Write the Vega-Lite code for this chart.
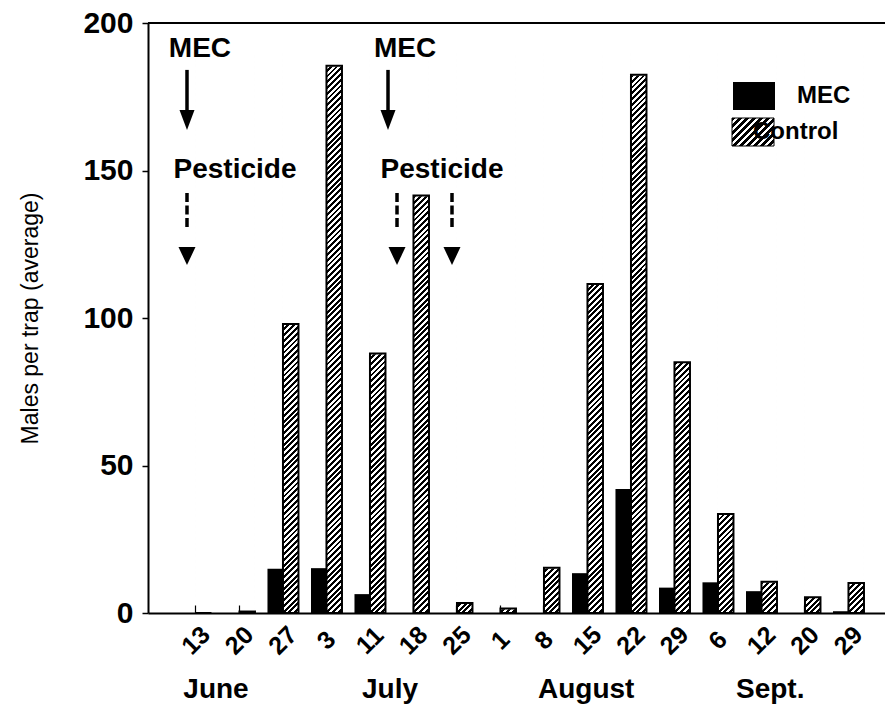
{
  "$schema": "https://vega.github.io/schema/vega-lite/v6.json",
  "width": 737,
  "height": 590,
  "autosize": {"type": "none"},
  "padding": {"left": 148, "top": 23, "right": 0, "bottom": 95},
  "background": "white",
  "config": {
    "view": {"stroke": null},
    "font": "Liberation Sans",
    "axis": {"labelColor": "black", "titleColor": "black", "domainColor": "black", "tickColor": "black", "labelFont": "Liberation Sans", "titleFont": "Liberation Sans", "grid": false}
  },
  "datasets": {
    "counts": [
      {"date": "Jun 13", "group": "MEC", "value": 0}, {"date": "Jun 13", "group": "Control", "value": 0},
      {"date": "Jun 20", "group": "MEC", "value": 0}, {"date": "Jun 20", "group": "Control", "value": 0.5},
      {"date": "Jun 27", "group": "MEC", "value": 15}, {"date": "Jun 27", "group": "Control", "value": 98},
      {"date": "Jul 3", "group": "MEC", "value": 15.2}, {"date": "Jul 3", "group": "Control", "value": 185.5},
      {"date": "Jul 11", "group": "MEC", "value": 6.4}, {"date": "Jul 11", "group": "Control", "value": 88},
      {"date": "Jul 18", "group": "MEC", "value": 0}, {"date": "Jul 18", "group": "Control", "value": 141.5},
      {"date": "Jul 25", "group": "MEC", "value": 0}, {"date": "Jul 25", "group": "Control", "value": 3.4},
      {"date": "Aug 1", "group": "MEC", "value": 0}, {"date": "Aug 1", "group": "Control", "value": 1.5},
      {"date": "Aug 8", "group": "MEC", "value": 0}, {"date": "Aug 8", "group": "Control", "value": 15.3},
      {"date": "Aug 15", "group": "MEC", "value": 13.5}, {"date": "Aug 15", "group": "Control", "value": 111.5},
      {"date": "Aug 22", "group": "MEC", "value": 42}, {"date": "Aug 22", "group": "Control", "value": 182.5},
      {"date": "Aug 29", "group": "MEC", "value": 8.6}, {"date": "Aug 29", "group": "Control", "value": 85},
      {"date": "Sep 6", "group": "MEC", "value": 10.4}, {"date": "Sep 6", "group": "Control", "value": 33.6},
      {"date": "Sep 12", "group": "MEC", "value": 7.4}, {"date": "Sep 12", "group": "Control", "value": 10.6},
      {"date": "Sep 20", "group": "MEC", "value": 0}, {"date": "Sep 20", "group": "Control", "value": 5.3},
      {"date": "Sep 29", "group": "MEC", "value": 0.6}, {"date": "Sep 29", "group": "Control", "value": 10.2}
    ],
    "notes": [
      {"label": "MEC", "px": 0.09, "py": 191.2},
      {"label": "MEC", "px": 4.805, "py": 191.2},
      {"label": "Pesticide", "px": 0.897, "py": 150.2},
      {"label": "Pesticide", "px": 5.655, "py": 150.2}
    ],
    "months": [
      {"label": "June", "px": 0.46, "py": -26},
      {"label": "July", "px": 4.46, "py": -26},
      {"label": "August", "px": 8.97, "py": -26},
      {"label": "Sept.", "px": 13.2, "py": -26}
    ],
    "arrows": [
      {"kind": "solid", "px": -0.207, "top": 184.1, "bottom": 169.5, "head": 167.1},
      {"kind": "solid", "px": 4.414, "top": 184.1, "bottom": 169.5, "head": 167.1},
      {"kind": "dotted", "px": -0.207, "top": 142.4, "bottom": 130.8, "head": 121.0},
      {"kind": "dotted", "px": 4.621, "top": 142.4, "bottom": 130.8, "head": 121.0},
      {"kind": "dotted", "px": 5.885, "top": 142.4, "bottom": 130.8, "head": 121.0}
    ]
  },
  "layer": [
    {
      "data": {"name": "counts"},
      "encoding": {
        "x": {
          "field": "date", "type": "nominal",
          "scale": {"domain": ["Jun 13","Jun 20","Jun 27","Jul 3","Jul 11","Jul 18","Jul 25","Aug 1","Aug 8","Aug 15","Aug 22","Aug 29","Sep 6","Sep 12","Sep 20","Sep 29"], "paddingInner": 0.2874, "paddingOuter": 0.615, "align": 0.607},
          "axis": {"title": null, "labelExpr": "split(datum.label, ' ')[1]", "labelAngle": -45, "labelAlign": "center", "labelBaseline": "middle", "labelPadding": 35, "labelFontSize": 25, "labelFontWeight": "bold", "ticks": true, "tickSize": -8, "tickWidth": 1.2, "domainWidth": 2, "zindex": 1}
        },
        "xOffset": {"field": "group", "type": "nominal", "scale": {"domain": ["MEC", "Control"], "paddingInner": 0, "paddingOuter": 0}},
        "y": {
          "field": "value", "type": "quantitative",
          "scale": {"domain": [0, 200], "nice": false},
          "axis": {"orient": "left", "title": "Males per trap (average)", "values": [0, 50, 100, 150, 200], "labelOverlap": false, "labelFontSize": 30, "labelFontWeight": "bold", "labelPadding": 9, "tickSize": 6, "tickWidth": 1.5, "domainWidth": 2, "titleFontSize": 23, "titleFontWeight": "normal", "titleX": -118, "titleY": 295, "titleAlign": "center", "titleBaseline": "middle", "zindex": 1}
        }
      },
      "layer": [
        {
          "transform": [{"filter": "datum.group === 'Control'"}],
          "mark": {"type": "bar", "strokeWidth": 0, "fill": {"gradient": "linear", "x1": 0, "y1": 0, "x2": 0.0284, "y2": 1.0269, "stops": [
{"offset":0.00,"color":"#000"},{"offset":0.005,"color":"#000"},{"offset":0.005,"color":"#fff"},{"offset":0.01,"color":"#fff"},
{"offset":0.01,"color":"#000"},{"offset":0.015,"color":"#000"},{"offset":0.015,"color":"#fff"},{"offset":0.02,"color":"#fff"},
{"offset":0.02,"color":"#000"},{"offset":0.025,"color":"#000"},{"offset":0.025,"color":"#fff"},{"offset":0.03,"color":"#fff"},
{"offset":0.03,"color":"#000"},{"offset":0.035,"color":"#000"},{"offset":0.035,"color":"#fff"},{"offset":0.04,"color":"#fff"},
{"offset":0.04,"color":"#000"},{"offset":0.045,"color":"#000"},{"offset":0.045,"color":"#fff"},{"offset":0.05,"color":"#fff"},
{"offset":0.05,"color":"#000"},{"offset":0.055,"color":"#000"},{"offset":0.055,"color":"#fff"},{"offset":0.06,"color":"#fff"},
{"offset":0.06,"color":"#000"},{"offset":0.065,"color":"#000"},{"offset":0.065,"color":"#fff"},{"offset":0.07,"color":"#fff"},
{"offset":0.07,"color":"#000"},{"offset":0.075,"color":"#000"},{"offset":0.075,"color":"#fff"},{"offset":0.08,"color":"#fff"},
{"offset":0.08,"color":"#000"},{"offset":0.085,"color":"#000"},{"offset":0.085,"color":"#fff"},{"offset":0.09,"color":"#fff"},
{"offset":0.09,"color":"#000"},{"offset":0.095,"color":"#000"},{"offset":0.095,"color":"#fff"},{"offset":0.10,"color":"#fff"},
{"offset":0.10,"color":"#000"},{"offset":0.105,"color":"#000"},{"offset":0.105,"color":"#fff"},{"offset":0.11,"color":"#fff"},
{"offset":0.11,"color":"#000"},{"offset":0.115,"color":"#000"},{"offset":0.115,"color":"#fff"},{"offset":0.12,"color":"#fff"},
{"offset":0.12,"color":"#000"},{"offset":0.125,"color":"#000"},{"offset":0.125,"color":"#fff"},{"offset":0.13,"color":"#fff"},
{"offset":0.13,"color":"#000"},{"offset":0.135,"color":"#000"},{"offset":0.135,"color":"#fff"},{"offset":0.14,"color":"#fff"},
{"offset":0.14,"color":"#000"},{"offset":0.145,"color":"#000"},{"offset":0.145,"color":"#fff"},{"offset":0.15,"color":"#fff"},
{"offset":0.15,"color":"#000"},{"offset":0.155,"color":"#000"},{"offset":0.155,"color":"#fff"},{"offset":0.16,"color":"#fff"},
{"offset":0.16,"color":"#000"},{"offset":0.165,"color":"#000"},{"offset":0.165,"color":"#fff"},{"offset":0.17,"color":"#fff"},
{"offset":0.17,"color":"#000"},{"offset":0.175,"color":"#000"},{"offset":0.175,"color":"#fff"},{"offset":0.18,"color":"#fff"},
{"offset":0.18,"color":"#000"},{"offset":0.185,"color":"#000"},{"offset":0.185,"color":"#fff"},{"offset":0.19,"color":"#fff"},
{"offset":0.19,"color":"#000"},{"offset":0.195,"color":"#000"},{"offset":0.195,"color":"#fff"},{"offset":0.20,"color":"#fff"},
{"offset":0.20,"color":"#000"},{"offset":0.205,"color":"#000"},{"offset":0.205,"color":"#fff"},{"offset":0.21,"color":"#fff"},
{"offset":0.21,"color":"#000"},{"offset":0.215,"color":"#000"},{"offset":0.215,"color":"#fff"},{"offset":0.22,"color":"#fff"},
{"offset":0.22,"color":"#000"},{"offset":0.225,"color":"#000"},{"offset":0.225,"color":"#fff"},{"offset":0.23,"color":"#fff"},
{"offset":0.23,"color":"#000"},{"offset":0.235,"color":"#000"},{"offset":0.235,"color":"#fff"},{"offset":0.24,"color":"#fff"},
{"offset":0.24,"color":"#000"},{"offset":0.245,"color":"#000"},{"offset":0.245,"color":"#fff"},{"offset":0.25,"color":"#fff"},
{"offset":0.25,"color":"#000"},{"offset":0.255,"color":"#000"},{"offset":0.255,"color":"#fff"},{"offset":0.26,"color":"#fff"},
{"offset":0.26,"color":"#000"},{"offset":0.265,"color":"#000"},{"offset":0.265,"color":"#fff"},{"offset":0.27,"color":"#fff"},
{"offset":0.27,"color":"#000"},{"offset":0.275,"color":"#000"},{"offset":0.275,"color":"#fff"},{"offset":0.28,"color":"#fff"},
{"offset":0.28,"color":"#000"},{"offset":0.285,"color":"#000"},{"offset":0.285,"color":"#fff"},{"offset":0.29,"color":"#fff"},
{"offset":0.29,"color":"#000"},{"offset":0.295,"color":"#000"},{"offset":0.295,"color":"#fff"},{"offset":0.30,"color":"#fff"},
{"offset":0.30,"color":"#000"},{"offset":0.305,"color":"#000"},{"offset":0.305,"color":"#fff"},{"offset":0.31,"color":"#fff"},
{"offset":0.31,"color":"#000"},{"offset":0.315,"color":"#000"},{"offset":0.315,"color":"#fff"},{"offset":0.32,"color":"#fff"},
{"offset":0.32,"color":"#000"},{"offset":0.325,"color":"#000"},{"offset":0.325,"color":"#fff"},{"offset":0.33,"color":"#fff"},
{"offset":0.33,"color":"#000"},{"offset":0.335,"color":"#000"},{"offset":0.335,"color":"#fff"},{"offset":0.34,"color":"#fff"},
{"offset":0.34,"color":"#000"},{"offset":0.345,"color":"#000"},{"offset":0.345,"color":"#fff"},{"offset":0.35,"color":"#fff"},
{"offset":0.35,"color":"#000"},{"offset":0.355,"color":"#000"},{"offset":0.355,"color":"#fff"},{"offset":0.36,"color":"#fff"},
{"offset":0.36,"color":"#000"},{"offset":0.365,"color":"#000"},{"offset":0.365,"color":"#fff"},{"offset":0.37,"color":"#fff"},
{"offset":0.37,"color":"#000"},{"offset":0.375,"color":"#000"},{"offset":0.375,"color":"#fff"},{"offset":0.38,"color":"#fff"},
{"offset":0.38,"color":"#000"},{"offset":0.385,"color":"#000"},{"offset":0.385,"color":"#fff"},{"offset":0.39,"color":"#fff"},
{"offset":0.39,"color":"#000"},{"offset":0.395,"color":"#000"},{"offset":0.395,"color":"#fff"},{"offset":0.40,"color":"#fff"},
{"offset":0.40,"color":"#000"},{"offset":0.405,"color":"#000"},{"offset":0.405,"color":"#fff"},{"offset":0.41,"color":"#fff"},
{"offset":0.41,"color":"#000"},{"offset":0.415,"color":"#000"},{"offset":0.415,"color":"#fff"},{"offset":0.42,"color":"#fff"},
{"offset":0.42,"color":"#000"},{"offset":0.425,"color":"#000"},{"offset":0.425,"color":"#fff"},{"offset":0.43,"color":"#fff"},
{"offset":0.43,"color":"#000"},{"offset":0.435,"color":"#000"},{"offset":0.435,"color":"#fff"},{"offset":0.44,"color":"#fff"},
{"offset":0.44,"color":"#000"},{"offset":0.445,"color":"#000"},{"offset":0.445,"color":"#fff"},{"offset":0.45,"color":"#fff"},
{"offset":0.45,"color":"#000"},{"offset":0.455,"color":"#000"},{"offset":0.455,"color":"#fff"},{"offset":0.46,"color":"#fff"},
{"offset":0.46,"color":"#000"},{"offset":0.465,"color":"#000"},{"offset":0.465,"color":"#fff"},{"offset":0.47,"color":"#fff"},
{"offset":0.47,"color":"#000"},{"offset":0.475,"color":"#000"},{"offset":0.475,"color":"#fff"},{"offset":0.48,"color":"#fff"},
{"offset":0.48,"color":"#000"},{"offset":0.485,"color":"#000"},{"offset":0.485,"color":"#fff"},{"offset":0.49,"color":"#fff"},
{"offset":0.49,"color":"#000"},{"offset":0.495,"color":"#000"},{"offset":0.495,"color":"#fff"},{"offset":0.50,"color":"#fff"},
{"offset":0.50,"color":"#000"},{"offset":0.505,"color":"#000"},{"offset":0.505,"color":"#fff"},{"offset":0.51,"color":"#fff"},
{"offset":0.51,"color":"#000"},{"offset":0.515,"color":"#000"},{"offset":0.515,"color":"#fff"},{"offset":0.52,"color":"#fff"},
{"offset":0.52,"color":"#000"},{"offset":0.525,"color":"#000"},{"offset":0.525,"color":"#fff"},{"offset":0.53,"color":"#fff"},
{"offset":0.53,"color":"#000"},{"offset":0.535,"color":"#000"},{"offset":0.535,"color":"#fff"},{"offset":0.54,"color":"#fff"},
{"offset":0.54,"color":"#000"},{"offset":0.545,"color":"#000"},{"offset":0.545,"color":"#fff"},{"offset":0.55,"color":"#fff"},
{"offset":0.55,"color":"#000"},{"offset":0.555,"color":"#000"},{"offset":0.555,"color":"#fff"},{"offset":0.56,"color":"#fff"},
{"offset":0.56,"color":"#000"},{"offset":0.565,"color":"#000"},{"offset":0.565,"color":"#fff"},{"offset":0.57,"color":"#fff"},
{"offset":0.57,"color":"#000"},{"offset":0.575,"color":"#000"},{"offset":0.575,"color":"#fff"},{"offset":0.58,"color":"#fff"},
{"offset":0.58,"color":"#000"},{"offset":0.585,"color":"#000"},{"offset":0.585,"color":"#fff"},{"offset":0.59,"color":"#fff"},
{"offset":0.59,"color":"#000"},{"offset":0.595,"color":"#000"},{"offset":0.595,"color":"#fff"},{"offset":0.60,"color":"#fff"},
{"offset":0.60,"color":"#000"},{"offset":0.605,"color":"#000"},{"offset":0.605,"color":"#fff"},{"offset":0.61,"color":"#fff"},
{"offset":0.61,"color":"#000"},{"offset":0.615,"color":"#000"},{"offset":0.615,"color":"#fff"},{"offset":0.62,"color":"#fff"},
{"offset":0.62,"color":"#000"},{"offset":0.625,"color":"#000"},{"offset":0.625,"color":"#fff"},{"offset":0.63,"color":"#fff"},
{"offset":0.63,"color":"#000"},{"offset":0.635,"color":"#000"},{"offset":0.635,"color":"#fff"},{"offset":0.64,"color":"#fff"},
{"offset":0.64,"color":"#000"},{"offset":0.645,"color":"#000"},{"offset":0.645,"color":"#fff"},{"offset":0.65,"color":"#fff"},
{"offset":0.65,"color":"#000"},{"offset":0.655,"color":"#000"},{"offset":0.655,"color":"#fff"},{"offset":0.66,"color":"#fff"},
{"offset":0.66,"color":"#000"},{"offset":0.665,"color":"#000"},{"offset":0.665,"color":"#fff"},{"offset":0.67,"color":"#fff"},
{"offset":0.67,"color":"#000"},{"offset":0.675,"color":"#000"},{"offset":0.675,"color":"#fff"},{"offset":0.68,"color":"#fff"},
{"offset":0.68,"color":"#000"},{"offset":0.685,"color":"#000"},{"offset":0.685,"color":"#fff"},{"offset":0.69,"color":"#fff"},
{"offset":0.69,"color":"#000"},{"offset":0.695,"color":"#000"},{"offset":0.695,"color":"#fff"},{"offset":0.70,"color":"#fff"},
{"offset":0.70,"color":"#000"},{"offset":0.705,"color":"#000"},{"offset":0.705,"color":"#fff"},{"offset":0.71,"color":"#fff"},
{"offset":0.71,"color":"#000"},{"offset":0.715,"color":"#000"},{"offset":0.715,"color":"#fff"},{"offset":0.72,"color":"#fff"},
{"offset":0.72,"color":"#000"},{"offset":0.725,"color":"#000"},{"offset":0.725,"color":"#fff"},{"offset":0.73,"color":"#fff"},
{"offset":0.73,"color":"#000"},{"offset":0.735,"color":"#000"},{"offset":0.735,"color":"#fff"},{"offset":0.74,"color":"#fff"},
{"offset":0.74,"color":"#000"},{"offset":0.745,"color":"#000"},{"offset":0.745,"color":"#fff"},{"offset":0.75,"color":"#fff"},
{"offset":0.75,"color":"#000"},{"offset":0.755,"color":"#000"},{"offset":0.755,"color":"#fff"},{"offset":0.76,"color":"#fff"},
{"offset":0.76,"color":"#000"},{"offset":0.765,"color":"#000"},{"offset":0.765,"color":"#fff"},{"offset":0.77,"color":"#fff"},
{"offset":0.77,"color":"#000"},{"offset":0.775,"color":"#000"},{"offset":0.775,"color":"#fff"},{"offset":0.78,"color":"#fff"},
{"offset":0.78,"color":"#000"},{"offset":0.785,"color":"#000"},{"offset":0.785,"color":"#fff"},{"offset":0.79,"color":"#fff"},
{"offset":0.79,"color":"#000"},{"offset":0.795,"color":"#000"},{"offset":0.795,"color":"#fff"},{"offset":0.80,"color":"#fff"},
{"offset":0.80,"color":"#000"},{"offset":0.805,"color":"#000"},{"offset":0.805,"color":"#fff"},{"offset":0.81,"color":"#fff"},
{"offset":0.81,"color":"#000"},{"offset":0.815,"color":"#000"},{"offset":0.815,"color":"#fff"},{"offset":0.82,"color":"#fff"},
{"offset":0.82,"color":"#000"},{"offset":0.825,"color":"#000"},{"offset":0.825,"color":"#fff"},{"offset":0.83,"color":"#fff"},
{"offset":0.83,"color":"#000"},{"offset":0.835,"color":"#000"},{"offset":0.835,"color":"#fff"},{"offset":0.84,"color":"#fff"},
{"offset":0.84,"color":"#000"},{"offset":0.845,"color":"#000"},{"offset":0.845,"color":"#fff"},{"offset":0.85,"color":"#fff"},
{"offset":0.85,"color":"#000"},{"offset":0.855,"color":"#000"},{"offset":0.855,"color":"#fff"},{"offset":0.86,"color":"#fff"},
{"offset":0.86,"color":"#000"},{"offset":0.865,"color":"#000"},{"offset":0.865,"color":"#fff"},{"offset":0.87,"color":"#fff"},
{"offset":0.87,"color":"#000"},{"offset":0.875,"color":"#000"},{"offset":0.875,"color":"#fff"},{"offset":0.88,"color":"#fff"},
{"offset":0.88,"color":"#000"},{"offset":0.885,"color":"#000"},{"offset":0.885,"color":"#fff"},{"offset":0.89,"color":"#fff"},
{"offset":0.89,"color":"#000"},{"offset":0.895,"color":"#000"},{"offset":0.895,"color":"#fff"},{"offset":0.90,"color":"#fff"},
{"offset":0.90,"color":"#000"},{"offset":0.905,"color":"#000"},{"offset":0.905,"color":"#fff"},{"offset":0.91,"color":"#fff"},
{"offset":0.91,"color":"#000"},{"offset":0.915,"color":"#000"},{"offset":0.915,"color":"#fff"},{"offset":0.92,"color":"#fff"},
{"offset":0.92,"color":"#000"},{"offset":0.925,"color":"#000"},{"offset":0.925,"color":"#fff"},{"offset":0.93,"color":"#fff"},
{"offset":0.93,"color":"#000"},{"offset":0.935,"color":"#000"},{"offset":0.935,"color":"#fff"},{"offset":0.94,"color":"#fff"},
{"offset":0.94,"color":"#000"},{"offset":0.945,"color":"#000"},{"offset":0.945,"color":"#fff"},{"offset":0.95,"color":"#fff"},
{"offset":0.95,"color":"#000"},{"offset":0.955,"color":"#000"},{"offset":0.955,"color":"#fff"},{"offset":0.96,"color":"#fff"},
{"offset":0.96,"color":"#000"},{"offset":0.965,"color":"#000"},{"offset":0.965,"color":"#fff"},{"offset":0.97,"color":"#fff"},
{"offset":0.97,"color":"#000"},{"offset":0.975,"color":"#000"},{"offset":0.975,"color":"#fff"},{"offset":0.98,"color":"#fff"},
{"offset":0.98,"color":"#000"},{"offset":0.985,"color":"#000"},{"offset":0.985,"color":"#fff"},{"offset":0.99,"color":"#fff"},
{"offset":0.99,"color":"#000"},{"offset":0.995,"color":"#000"},{"offset":0.995,"color":"#fff"},{"offset":1,"color":"#fff"}
          ]}},
          "encoding": {
            "y": {"datum": 190, "type": "quantitative", "scale": {"domain": [0, 200], "nice": false}},
            "y2": {"datum": 0}
          }
        },
        {
          "transform": [{"filter": "datum.group === 'Control'"}],
          "mark": {"type": "bar", "fill": "white", "stroke": "white", "strokeWidth": 1.5},
          "encoding": {"y2": {"datum": 190}}
        },
        {
          "transform": [{"filter": "datum.group === 'Control'"}],
          "mark": {"type": "bar", "fill": "transparent", "stroke": "black", "strokeWidth": 2}
        },
        {
          "transform": [{"filter": "datum.group === 'Control'"}],
          "mark": {"type": "bar", "opacity": 0, "stroke": "black", "fill": {"gradient": "linear", "x1": 0, "y1": 0, "x2": 1.1538, "y2": 0.7692, "stops": [
{"offset":0.0,"color":"#000"},{"offset":0.05,"color":"#000"},{"offset":0.05,"color":"#fff"},{"offset":0.1,"color":"#fff"},
{"offset":0.1,"color":"#000"},{"offset":0.15,"color":"#000"},{"offset":0.15,"color":"#fff"},{"offset":0.2,"color":"#fff"},
{"offset":0.2,"color":"#000"},{"offset":0.25,"color":"#000"},{"offset":0.25,"color":"#fff"},{"offset":0.3,"color":"#fff"},
{"offset":0.3,"color":"#000"},{"offset":0.35,"color":"#000"},{"offset":0.35,"color":"#fff"},{"offset":0.4,"color":"#fff"},
{"offset":0.4,"color":"#000"},{"offset":0.45,"color":"#000"},{"offset":0.45,"color":"#fff"},{"offset":0.5,"color":"#fff"},
{"offset":0.5,"color":"#000"},{"offset":0.55,"color":"#000"},{"offset":0.55,"color":"#fff"},{"offset":0.6,"color":"#fff"},
{"offset":0.6,"color":"#000"},{"offset":0.65,"color":"#000"},{"offset":0.65,"color":"#fff"},{"offset":0.7,"color":"#fff"},
{"offset":0.7,"color":"#000"},{"offset":0.75,"color":"#000"},{"offset":0.75,"color":"#fff"},{"offset":0.8,"color":"#fff"},
{"offset":0.8,"color":"#000"},{"offset":0.85,"color":"#000"},{"offset":0.85,"color":"#fff"},{"offset":0.9,"color":"#fff"},
{"offset":0.9,"color":"#000"},{"offset":0.95,"color":"#000"},{"offset":0.95,"color":"#fff"},{"offset":1,"color":"#fff"}
          ]}},
          "encoding": {
            "strokeWidth": {
              "field": "group", "type": "ordinal",
              "scale": {"domain": ["Control"], "range": [1.5]},
              "legend": {
                "title": null, "orient": "none", "legendX": 605, "legendY": 109, "padding": 0,
                "symbolType": "M-1.2,-0.8L1.2,-0.8L1.2,0.8L-1.2,0.8Z", "symbolSize": 1225, "symbolOpacity": 1,
                "labelExpr": "'\u00a0\u00a0\u00a0\u00a0\u00a0\u00a0' + datum.label",
                "labelFontSize": 24, "labelFontWeight": "bold", "labelFont": "Liberation Sans", "labelColor": "black", "labelOffset": 24.5
              }
            }
          }
        },
        {
          "transform": [{"filter": "datum.group === 'MEC'"}],
          "mark": {"type": "bar", "fill": "black", "strokeWidth": 0},
          "encoding": {
            "opacity": {
              "field": "group", "type": "ordinal",
              "scale": {"domain": ["MEC"], "range": [1]},
              "legend": {
                "title": null, "orient": "none", "legendX": 587.5, "legendY": 54.5, "padding": 0,
                "symbolType": "M-1.2,-0.8L1.2,-0.8L1.2,0.8L-1.2,0.8Z", "symbolSize": 1225,
                "labelFontSize": 24, "labelFontWeight": "bold", "labelFont": "Liberation Sans", "labelColor": "black", "labelOffset": 24.5
              }
            }
          }
        }
      ]
    },
    {
      "layer": [
        {
          "data": {"values": [{}]},
          "mark": {"type": "rule", "color": "black", "strokeWidth": 2},
          "encoding": {
            "y": {"datum": 200, "type": "quantitative", "scale": {"domain": [0, 200], "nice": false}}
          }
        },
        {
          "data": {"name": "notes"},
          "mark": {"type": "text", "fontSize": 28, "fontWeight": "bold", "font": "Liberation Sans", "color": "black", "align": "center", "baseline": "middle"},
          "encoding": {
            "x": {"field": "px", "type": "quantitative", "scale": {"domain": [-1.10345, 15.8391], "nice": false, "zero": false}, "axis": null},
            "y": {"field": "py", "type": "quantitative", "scale": {"domain": [0, 200], "nice": false}},
            "text": {"field": "label"}
          }
        },
        {
          "data": {"name": "months"},
          "mark": {"type": "text", "fontSize": 28, "fontWeight": "bold", "font": "Liberation Sans", "color": "black", "align": "center", "baseline": "middle"},
          "encoding": {
            "x": {"field": "px", "type": "quantitative", "scale": {"domain": [-1.10345, 15.8391], "nice": false, "zero": false}, "axis": null},
            "y": {"field": "py", "type": "quantitative", "scale": {"domain": [0, 200], "nice": false}},
            "text": {"field": "label"}
          }
        },
        {
          "data": {"name": "arrows"},
          "transform": [{"filter": "datum.kind === 'solid'"}],
          "mark": {"type": "rule", "color": "black", "strokeWidth": 3.5},
          "encoding": {
            "x": {"field": "px", "type": "quantitative", "scale": {"domain": [-1.10345, 15.8391], "nice": false, "zero": false}, "axis": null},
            "y": {"field": "top", "type": "quantitative", "scale": {"domain": [0, 200], "nice": false}},
            "y2": {"field": "bottom"}
          }
        },
        {
          "data": {"name": "arrows"},
          "transform": [{"filter": "datum.kind === 'dotted'"}],
          "mark": {"type": "rule", "color": "black", "strokeWidth": 3.5, "strokeDash": [9, 3.5]},
          "encoding": {
            "x": {"field": "px", "type": "quantitative", "scale": {"domain": [-1.10345, 15.8391], "nice": false, "zero": false}, "axis": null},
            "y": {"field": "top", "type": "quantitative", "scale": {"domain": [0, 200], "nice": false}},
            "y2": {"field": "bottom"}
          }
        },
        {
          "data": {"name": "arrows"},
          "transform": [{"filter": "datum.kind === 'solid'"}],
          "mark": {"type": "point", "filled": true, "fill": "black", "strokeWidth": 0, "opacity": 1, "shape": "M-0.75,-1L0.75,-1L0,1Z", "size": 400},
          "encoding": {
            "x": {"field": "px", "type": "quantitative", "scale": {"domain": [-1.10345, 15.8391], "nice": false, "zero": false}, "axis": null},
            "y": {"field": "head", "type": "quantitative", "scale": {"domain": [0, 200], "nice": false}}
          }
        },
        {
          "data": {"name": "arrows"},
          "transform": [{"filter": "datum.kind === 'dotted'"}],
          "mark": {"type": "point", "filled": true, "fill": "black", "strokeWidth": 0, "opacity": 1, "shape": "M-0.85,-0.9L0.85,-0.9L0,0.9Z", "size": 400},
          "encoding": {
            "x": {"field": "px", "type": "quantitative", "scale": {"domain": [-1.10345, 15.8391], "nice": false, "zero": false}, "axis": null},
            "y": {"field": "head", "type": "quantitative", "scale": {"domain": [0, 200], "nice": false}}
          }
        }
      ]
    }
  ],
  "resolve": {"scale": {"x": "independent"}}
}
